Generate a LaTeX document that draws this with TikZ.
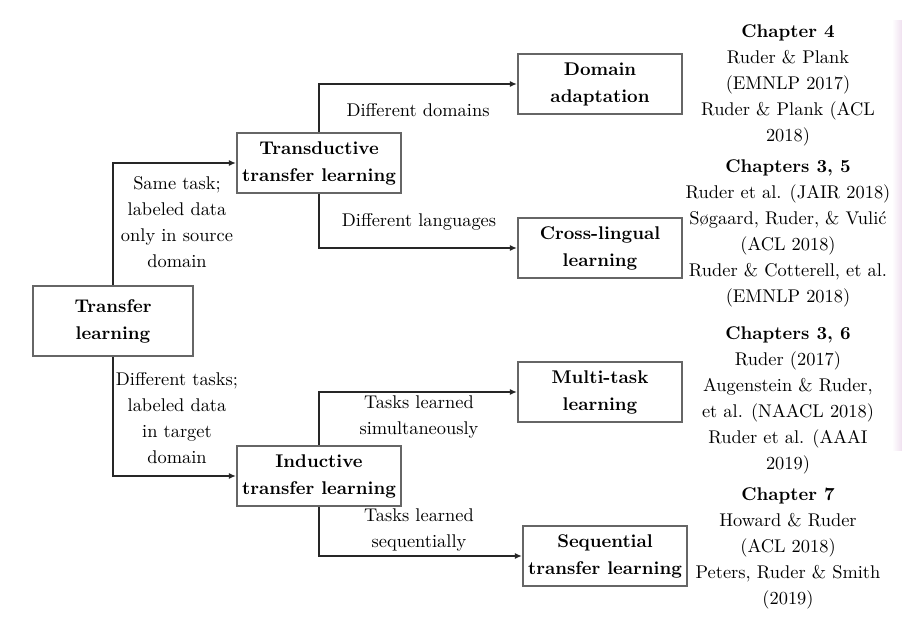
\documentclass[tikz,border=0pt]{standalone}
\usetikzlibrary{arrows.meta}
\begin{document}
\begin{tikzpicture}[x=1pt,y=-1pt,
  txt/.style={font=\fontsize{10}{14.13}\selectfont, scale=1.84, align=center, inner sep=0pt},
  box/.style={draw=black!60, line width=1.2pt, font=\fontsize{10}{14.67}\selectfont\bfseries, scale=1.84,
    align=center, minimum width=89.1pt, minimum height=32.6pt, inner xsep=1.5pt, inner ysep=1pt},
  conn/.style={draw=black!85, line width=1.8pt, -{Latex[length=7pt,width=6pt]}},
  cite/.style={font=\fontsize{10}{14.13}\selectfont, scale=1.84, align=center, inner sep=0pt}]
\useasboundingbox (0,0) rectangle (902,641);
\fill[white] (0,0) rectangle (902,641);
\shade[left color=white, right color=violet!12] (892,20) rectangle (902,450);

% boxes
\node[box, minimum width=87pt, minimum height=38pt] (tl) at (113,321) {Transfer\\learning};
\node[box] (td) at (319,163) {Transductive\\transfer learning};
\node[box] (ind) at (319,476) {Inductive\\transfer learning};
\node[box] (da) at (600,84) {Domain\\adaptation};
\node[box] (cl) at (600,248) {Cross-lingual\\learning};
\node[box] (mt) at (600,392) {Multi-task\\learning};
\node[box] (sq) at (605,556) {Sequential\\transfer learning};

% connectors
\draw[conn] (tl.north) |- (td.west);
\draw[conn] (tl.south) |- (ind.west);
\draw[conn] (td.north) |- (da.west);
\draw[conn] (td.south) |- (cl.west);
\draw[conn] (ind.north) |- (mt.west);
\draw[conn] (ind.south) |- (sq.west);

% connector labels
\node[txt] (l1) at (177,222) {Same task;\\labeled data\\only in source\\domain};
\node[txt] (l2) at (177,418) {Different tasks;\\labeled data\\in target\\domain};
\node[txt] (l3) at (418,110) {Different domains};
\node[txt] (l4) at (419,222) {Different languages};
\node[txt] (l5) at (419,417) {Tasks learned\\simultaneously};
\node[txt] (l6) at (419,530) {Tasks learned\\sequentially};

% citations
\node[cite] (c1) at (788,85) {\textbf{Chapter 4}\\Ruder \& Plank\\(EMNLP 2017)\\Ruder \& Plank (ACL\\2018)};
\node[cite] (c2) at (788,233) {\textbf{Chapters 3, 5}\\Ruder et al. (JAIR 2018)\\Søgaard, Ruder, \& Vulić\\(ACL 2018)\\Ruder \& Cotterell, et al.\\(EMNLP 2018)};
\node[cite] (c3) at (788,400) {\textbf{Chapters 3, 6}\\Ruder (2017)\\Augenstein \& Ruder,\\et al. (NAACL 2018)\\Ruder et al. (AAAI\\2019)};
\node[cite] (c4) at (788,548) {\textbf{Chapter 7}\\Howard \& Ruder\\(ACL 2018)\\Peters, Ruder \& Smith\\(2019)};
\end{tikzpicture}
\end{document}
